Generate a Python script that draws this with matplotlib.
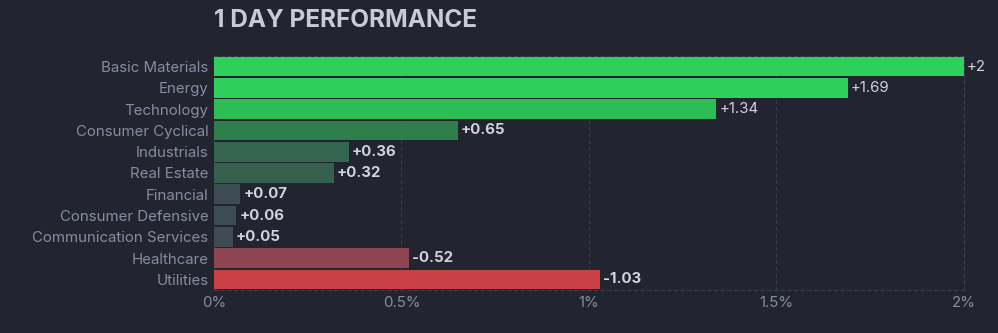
import numpy as np
import matplotlib.pyplot as plt

plt.rcParams['font.family'] = ['Inter', 'DejaVu Sans']

sectors = ['Basic Materials', 'Energy', 'Technology', 'Consumer Cyclical',
           'Industrials', 'Real Estate', 'Financial', 'Consumer Defensive',
           'Communication Services', 'Healthcare', 'Utilities']
change = [2, 1.69, 1.34, 0.65, 0.36, 0.32, 0.07, 0.06, 0.05, -0.52, -1.03]
colors = ['#2ecf5b', '#2ecf5b', '#2dbd55', '#2e7f4c', '#356650', '#35604e',
          '#3d4b53', '#3d4b53', '#3d4b53', '#8c4551', '#c94045']
bold_label = [False, False, False, True, True, True, True, True, True, True, True]

BG = '#22252f'
GRID = '#3b3f4d'

fig = plt.figure(figsize=(9.98, 3.33), dpi=100, facecolor=BG)
ax = fig.add_axes([0.2144, 0.129, 0.7515, 0.703], facecolor=BG)

y = np.arange(len(sectors))
ax.barh(y, np.abs(change), height=0.92, color=colors, zorder=3)

for yi, v, b in zip(y, change, bold_label):
    ax.text(abs(v) + 0.008, yi, f'{v:+g}', va='center', ha='left', fontsize=10.8,
            color='#d2d3dc', fontweight='bold' if b else 'normal', zorder=4)

ax.set_xlim(0, 2)
ax.set_ylim(len(sectors) - 0.5, -0.5)
ax.set_yticks(y)
ax.set_yticklabels(sectors)
ax.set_xticks([0, 0.5, 1, 1.5, 2])
ax.set_xticklabels(['0%', '0.5%', '1%', '1.5%', '2%'])
ax.tick_params(axis='both', length=0, colors='#878ca3', labelsize=10.8)
ax.tick_params(axis='y', pad=4)
ax.tick_params(axis='x', pad=4)

ax.grid(axis='x', color=GRID, linestyle=(0, (3, 3)), linewidth=0.8, zorder=0)
for side, sp in ax.spines.items():
    sp.set_color(GRID)
    sp.set_linestyle((0, (3, 3)))
    sp.set_linewidth(0.8)
ax.spines['left'].set_visible(False)

fig.text(0.2144, 0.938, '1 DAY PERFORMANCE', fontsize=17.5, fontweight='bold',
         color='#c9cad6', va='center', ha='left')

fig.savefig('out.png', dpi=100, facecolor=BG)
